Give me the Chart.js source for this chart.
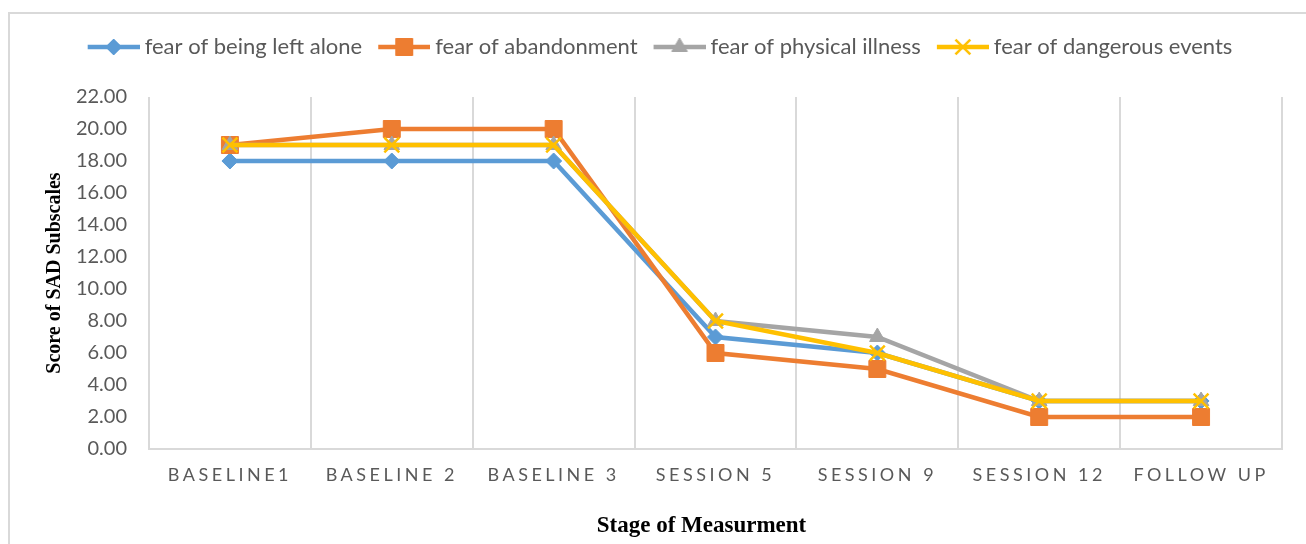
<!DOCTYPE html>
<html>
<head>
<meta charset="utf-8">
<script src="https://cdn.jsdelivr.net/npm/chart.js@4.4.0/dist/chart.umd.min.js"></script>
<style>
	body { margin: 0; background: #fff; }
	canvas { display: block; }
</style>
</head>
<body>
<canvas id="mycanvas" width="1306" height="544"></canvas>
<script>
var stages = ['BASELINE1', 'BASELINE 2', 'BASELINE 3', 'SESSION 5', 'SESSION 9', 'SESSION 12', 'FOLLOW UP'];
var leftAlone = [18, 18, 18, 7, 6, 3, 3];
var abandonment = [19, 20, 20, 6, 5, 2, 2];
var physicalIllness = [19, 19, 19, 8, 7, 3, 3];
var dangerousEvents = [19, 19, 19, 8, 6, 3, 3];
var yMin = 0, yMax = 22, yStep = 2;

// legend icon: short line with the marker in the middle
function legendIcon(ds) {
	var c = document.createElement('canvas');
	c.width = 56;
	c.height = 28;
	var g = c.getContext('2d');
	g.strokeStyle = ds.borderColor;
	g.lineWidth = ds.borderWidth;
	g.beginPath();
	g.moveTo(4, 14);
	g.lineTo(56, 14);
	g.stroke();
	g.fillStyle = ds.pointBackgroundColor;
	g.strokeStyle = ds.pointBorderColor;
	g.lineWidth = ds.pointBorderWidth;
	Chart.helpers.drawPoint(g, {
		pointStyle: ds.pointStyle,
		radius: ds.pointRadius,
		borderWidth: ds.pointBorderWidth,
		rotation: 0
	}, 30, 14);
	return c;
}

var chartPlugin = {
	id: 'excelLook',
	beforeUpdate: function(chart) {
		var lg = chart.legend;
		if (lg && !lg._padded) {
			var fit = lg.fit;
			lg.fit = function() {
				fit.call(this);
				this.height += 29;
			};
			lg._padded = true;
		}
	},
	beforeDraw: function(chart) {
		var ctx = chart.ctx;
		ctx.save();
		ctx.fillStyle = '#fff';
		ctx.fillRect(0, 0, chart.width, chart.height);
		ctx.strokeStyle = '#d9d9d9';
		ctx.lineWidth = 2;
		ctx.strokeRect(9, 13, chart.width + 20, chart.height + 20);
		ctx.restore();

		var sx = chart.scales.x;
		if (!sx._spaced) {
			var drawLabels = sx.drawLabels;
			sx.drawLabels = function(area) {
				this.ctx.save();
				this.ctx.letterSpacing = '3.5px';
				drawLabels.call(this, area);
				this.ctx.restore();
			};
			// title sits a little left of the plot centre in the original
			var drawTitle = sx.drawTitle;
			sx.drawTitle = function() {
				this.ctx.save();
				this.ctx.translate(-14, 0);
				drawTitle.call(this);
				this.ctx.restore();
			};
			sx._spaced = true;
		}
	}
};

function series(label, data, color, style, radius, order) {
	return {
		label: label,
		data: data,
		borderColor: color,
		backgroundColor: color,
		borderWidth: 4.5,
		pointStyle: style,
		pointRadius: radius,
		pointHoverRadius: radius,
		pointBackgroundColor: color,
		pointBorderColor: color,
		pointBorderWidth: style == 'crossRot' ? 2.5 : 1,
		tension: 0,
		order: order
	};
}

var chartdata = {
	labels: stages,
	datasets: [
		series('fear of being left alone', leftAlone, '#5B9BD5', 'rectRot', 8, 4),
		series('fear of abandonment', abandonment, '#ED7D31', 'rect', 12, 3),
		series('fear of physical illness', physicalIllness, '#A5A5A5', 'triangle', 9, 2),
		series('fear of dangerous events', dangerousEvents, '#FFC000', 'crossRot', 10.5, 1)
	]
};

var ctx = document.getElementById('mycanvas');

var lineGraph = new Chart(ctx, {
	type: 'line',
	data: chartdata,
	plugins: [chartPlugin],
	options: {
		responsive: false,
		animation: false,
		layout: { padding: { top: 18, left: 40, right: 24, bottom: 0 } },
		plugins: {
			tooltip: { enabled: false },
			legend: {
				position: 'top',
				labels: {
					usePointStyle: true,
					pointStyleWidth: 44,
					padding: 18,
					color: '#595959',
					font: { family: 'Lato', size: 22 },
					generateLabels: function(chart) {
						return chart.data.datasets.map(function(ds, i) {
							return {
								text: ds.label,
								pointStyle: legendIcon(ds),
								fillStyle: ds.borderColor,
								strokeStyle: ds.borderColor,
								lineWidth: 0,
								hidden: !chart.isDatasetVisible(i),
								datasetIndex: i,
								fontColor: '#595959'
							};
						});
					}
				}
			}
		},
		scales: {
			x: {
				offset: true,
				grid: { display: true, offset: true, color: '#d9d9d9', lineWidth: 2, drawTicks: false },
				border: { display: true, color: '#d9d9d9', width: 2 },
				ticks: {
					color: '#595959',
					font: { family: 'Lato', size: 18 },
					padding: 15,
					maxRotation: 0,
					autoSkip: false
				},
				title: {
					display: true,
					text: 'Stage of Measurment',
					color: '#000',
					font: { family: 'Liberation Serif', size: 23, weight: 'bold' },
					padding: { top: 4, bottom: 4 }
				},
				afterFit: function(s) { s.height = 95; }
			},
			y: {
				min: yMin,
				max: yMax,
				grid: { display: false },
				border: { display: false },
				ticks: {
					stepSize: yStep,
					color: '#595959',
					font: { family: 'Lato', size: 20 },
					padding: 14,
					callback: function(v) { return v.toFixed(2); }
				},
				title: {
					display: true,
					text: 'Score of SAD Subscales',
					color: '#000',
					font: { family: 'Liberation Serif', size: 20, weight: 'bold' },
					padding: { top: 3, bottom: 4 }
				},
				afterFit: function(s) { s.width = 109; }
			}
		}
	}
});
</script>
</body>
</html>
